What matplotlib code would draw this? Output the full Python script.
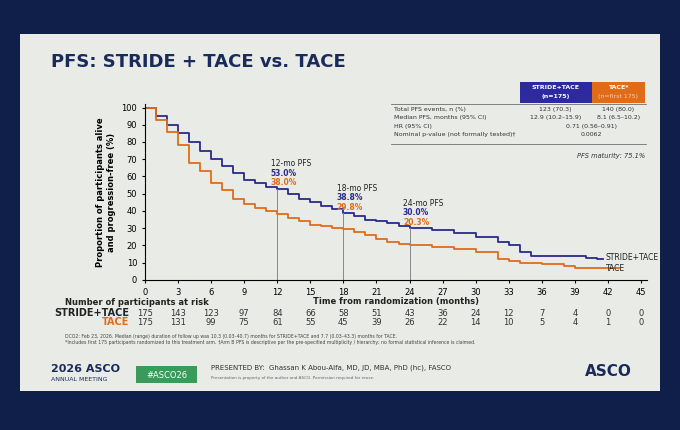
import matplotlib
matplotlib.use("Agg")
from matplotlib import pyplot as plt
from matplotlib.patches import Rectangle

BLUE = "#2b2a8c"
ORANGE = "#e06c1a"
SLIDE_BG = "#e8ebe6"

months_st = [0, 1, 2, 3, 4, 5, 6, 7, 8, 9, 10, 11, 12, 13, 14, 15, 16, 17, 18, 19, 20, 21, 22, 23, 24,
             26, 28, 30, 32, 33, 34, 35, 38, 40, 41, 41.5]
pfs_st = [100, 95, 90, 85, 80, 75, 70, 66, 62, 58, 56, 54, 53, 50, 47, 45, 43, 41, 38.8, 37, 35, 34, 33, 31, 30,
          29, 27, 25, 22, 20, 16, 14, 14, 13, 12, 12]
months_ta = [0, 1, 2, 3, 4, 5, 6, 7, 8, 9, 10, 11, 12, 13, 14, 15, 16, 17, 18, 19, 20, 21, 22, 23, 24,
             26, 28, 30, 32, 33, 34, 36, 38, 39, 43]
pfs_ta = [100, 93, 86, 78, 68, 63, 56, 52, 47, 44, 42, 40, 38, 36, 34, 32, 31, 30, 29.8, 28, 26, 24, 22, 21, 20.3,
          19, 18, 16, 12, 11, 10, 9, 8, 7, 7]

risk_times = list(range(0, 46, 3))
risk_st = [175, 143, 123, 97, 84, 66, 58, 51, 43, 36, 24, 12, 7, 4, 0, 0]
risk_ta = [175, 131, 99, 75, 61, 55, 45, 39, 26, 22, 14, 10, 5, 4, 1, 0]

landmarks = [(12, "12-mo PFS", "53.0%", "38.0%", 53.0),
             (18, "18-mo PFS", "38.8%", "29.8%", 38.8),
             (24, "24-mo PFS", "30.0%", "20.3%", 30.0)]

fig = plt.figure(figsize=(6.8, 4.3), dpi=100)
fig.patch.set_facecolor("#0f1f4a")
fig.patches.append(Rectangle((0.03, 0.09), 0.94, 0.83, transform=fig.transFigure,
                             facecolor=SLIDE_BG, edgecolor="none", zorder=0))

fig.text(0.075, 0.845, "PFS: STRIDE + TACE vs. TACE", fontsize=13, fontweight="bold", color="#1a2a5a")

ax = fig.add_axes([0.213, 0.349, 0.738, 0.409])
ax.set_zorder(3)
ax.patch.set_alpha(0)
ax.step(months_st, pfs_st, where="post", color=BLUE, lw=1.3)
ax.step(months_ta, pfs_ta, where="post", color=ORANGE, lw=1.3)
ax.set_xlim(0, 45.5)
ax.set_ylim(0, 102)
ax.set_xticks(risk_times)
ax.set_yticks(range(0, 101, 10))
ax.tick_params(labelsize=6, length=2)
for s in ("top", "right"):
    ax.spines[s].set_visible(False)
ax.set_ylabel("Proportion of participants alive\nand progression-free (%)", fontsize=6, fontweight="bold")

for t, lab, v1, v2, top in landmarks:
    ax.plot([t, t], [0, top], color="#888888", lw=0.7)
    ax.text(t - 0.6, top + 13, lab, fontsize=5.5, color="#222222")
    ax.text(t - 0.6, top + 7.5, v1, fontsize=5.5, color=BLUE, fontweight="bold")
    ax.text(t - 0.6, top + 2, v2, fontsize=5.5, color=ORANGE, fontweight="bold")

ax.text(41.8, 13, "STRIDE+TACE", fontsize=5.5, color="#222222", va="center")
ax.text(41.8, 6.5, "TACE", fontsize=5.5, color="#222222", va="center")

# summary table
fig.patches.append(Rectangle((0.765, 0.76), 0.105, 0.05, transform=fig.transFigure,
                             facecolor="#2d2aa0", zorder=1))
fig.patches.append(Rectangle((0.870, 0.76), 0.078, 0.05, transform=fig.transFigure,
                             facecolor=ORANGE, zorder=1))
fig.text(0.817, 0.792, "STRIDE+TACE", fontsize=4.5, color="white", ha="center", fontweight="bold", zorder=2)
fig.text(0.817, 0.772, "(n=175)", fontsize=4.5, color="white", ha="center", fontweight="bold", zorder=2)
fig.text(0.909, 0.792, "TACE*", fontsize=4.5, color="white", ha="center", fontweight="bold", zorder=2)
fig.text(0.909, 0.772, "(n=first 175)", fontsize=4.5, color="#f5d0b0", ha="center", zorder=2)
rows = [("Total PFS events, n (%)", "123 (70.3)", "140 (80.0)"),
        ("Median PFS, months (95% CI)", "12.9 (10.2\u201315.9)", "8.1 (6.5\u201310.2)"),
        ("HR (95% CI)", "0.71 (0.56\u20130.91)", None),
        ("Nominal p-value (not formally tested)\u2020", "0.0062", None)]
for i, (lab, a, b) in enumerate(rows):
    y = 0.743 - i * 0.02
    fig.text(0.58, y, lab, fontsize=4.5, color="#333333")
    if b is None:
        fig.text(0.87, y, a, fontsize=4.5, color="#333333", ha="center")
    else:
        fig.text(0.817, y, a, fontsize=4.5, color="#333333", ha="center")
        fig.text(0.909, y, b, fontsize=4.5, color="#333333", ha="center")
fig.add_artist(plt.Line2D([0.575, 0.95], [0.758, 0.758], color="#555555", lw=0.5))
fig.add_artist(plt.Line2D([0.575, 0.95], [0.665, 0.665], color="#555555", lw=0.5))
fig.text(0.948, 0.632, "PFS maturity: 75.1%", fontsize=4.8, color="#333333", ha="right", style="italic")

# risk table
fig.text(0.095, 0.29, "Number of participants at risk", fontsize=6, fontweight="bold", color="#222222")
fig.text(0.582, 0.293, "Time from randomization (months)", fontsize=6, fontweight="bold",
         color="#222222", ha="center")
fig.text(0.19, 0.266, "STRIDE+TACE", fontsize=7, fontweight="bold", color="#222222", ha="right")
fig.text(0.19, 0.244, "TACE", fontsize=7, fontweight="bold", color=ORANGE, ha="right")
for t, a, b in zip(risk_times, risk_st, risk_ta):
    xf = 0.213 + 0.738 * t / 45.5
    fig.text(xf, 0.266, str(a), fontsize=6, color="#333333", ha="center")
    fig.text(xf, 0.244, str(b), fontsize=6, color="#333333", ha="center")

fig.text(0.095, 0.213, "DCO2: Feb 23, 2026. Median (range) duration of follow up was 10.3 (0.03\u201340.7) months "
         "for STRIDE+TACE and 7.7 (0.03\u201343.3) months for TACE.", fontsize=3.3, color="#444444")
fig.text(0.095, 0.200, "*Includes first 175 participants randomized to this treatment arm. \u2020Arm B PFS is "
         "descriptive per the pre-specified multiplicity / hierarchy; no formal statistical inference is claimed.",
         fontsize=3.3, color="#444444")

# footer
fig.text(0.075, 0.135, "2026 ASCO", fontsize=8, color="#1a2a5a", fontweight="bold")
fig.text(0.075, 0.115, "ANNUAL MEETING", fontsize=4.5, color="#1a2a5a")
fig.patches.append(Rectangle((0.2, 0.11), 0.09, 0.04, transform=fig.transFigure,
                             facecolor="#3a9a5a", zorder=1))
fig.text(0.245, 0.122, "#ASCO26", fontsize=6, color="white", ha="center", zorder=2)
fig.text(0.31, 0.14, "PRESENTED BY:  Ghassan K Abou-Alfa, MD, JD, MBA, PhD (hc), FASCO",
         fontsize=5, color="#333333")
fig.text(0.31, 0.118, "Presentation is property of the author and ASCO. Permission required for reuse.",
         fontsize=3, color="#666666")
fig.text(0.86, 0.125, "ASCO", fontsize=11, color="#1a2a5a", fontweight="bold")

fig.savefig("out.png", dpi=100, facecolor=fig.get_facecolor())
